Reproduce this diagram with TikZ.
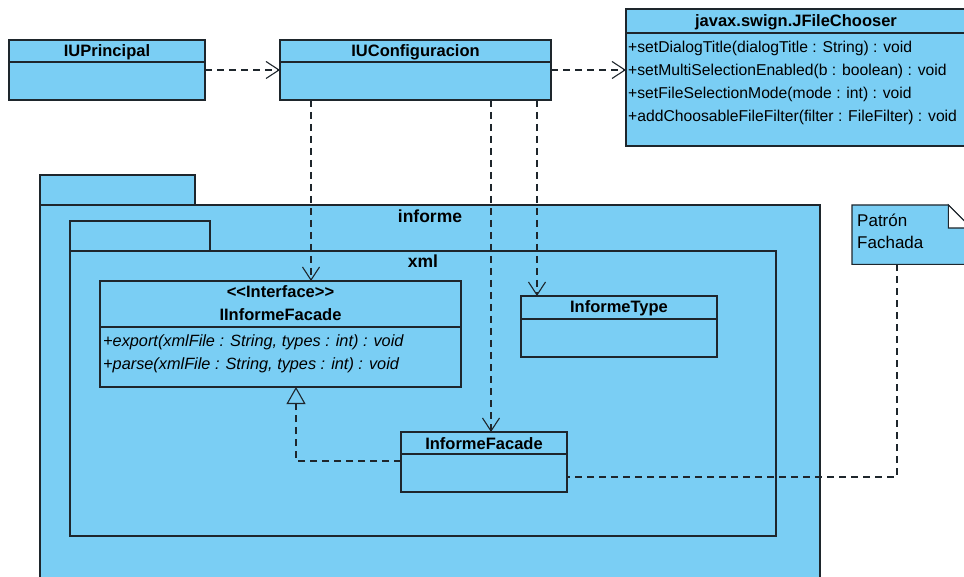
\documentclass[tikz,border=0pt]{standalone}
\usepackage{fontspec}
\setmainfont{Liberation Sans}
\usetikzlibrary{arrows.meta}
\definecolor{umlblue}{RGB}{122,206,244}
\definecolor{umlline}{RGB}{30,38,44}
\begin{document}
\begin{tikzpicture}[x=1pt,y=-1pt,
  box/.style={draw=umlline, fill=umlblue, line width=1.1pt, anchor=north west, inner sep=0pt, outer sep=0pt},
  cname/.style={font=\fontsize{16.5}{19}\selectfont\bfseries, inner sep=0pt, anchor=base},
  pname/.style={font=\fontsize{17.5}{20}\selectfont\bfseries, inner sep=0pt, anchor=base},
  meth/.style={font=\fontsize{15.7}{19}\selectfont, inner sep=0pt, anchor=base west},
  imeth/.style={font=\fontsize{16.3}{19}\selectfont\itshape, inner sep=0pt, anchor=base west},
  notetext/.style={font=\fontsize{17}{20}\selectfont, inner sep=0pt, anchor=base west},
  sepline/.style={draw=umlline, line width=1.1pt},
  dep/.style={draw=umlline, line width=1.1pt, dash pattern=on 7pt off 5pt, -{Straight Barb[length=13pt,width=17pt]}},
  real/.style={draw=umlline, line width=1.1pt, dash pattern=on 7pt off 5pt, -{Triangle[open,length=17pt,width=19pt]}},
  anchorline/.style={draw=umlline, line width=1.1pt, dash pattern=on 7pt off 5pt},
]
\useasboundingbox (0,0) rectangle (964,577);

% packages
\node[box, minimum width=780, minimum height=400] (informe) at (40,205) {};
\node[box, minimum width=155, minimum height=30, anchor=south west] (informetab) at (informe.north west) {};
\node[pname] (informelbl) at ([yshift=-18pt]informe.north) {informe};

\node[box, minimum width=706, minimum height=285] (xml) at (70,251) {};
\node[box, minimum width=140, minimum height=30, anchor=south west] (xmltab) at (xml.north west) {};
\node[pname] (xmllbl) at ([yshift=-17pt]xml.north) {xml};

% IUPrincipal
\node[box, minimum width=196, minimum height=60] (IUP) at (9,40) {};
\draw[sepline] ([yshift=-22pt]IUP.north west) -- ([yshift=-22pt]IUP.north east);
\node[cname] (IUPt) at ([yshift=-17pt]IUP.north) {IUPrincipal};

% IUConfiguracion
\node[box, minimum width=271, minimum height=60] (IUC) at (280,40) {};
\draw[sepline] ([yshift=-22pt]IUC.north west) -- ([yshift=-22pt]IUC.north east);
\node[cname] (IUCt) at ([yshift=-17pt]IUC.north) {IUConfiguracion};

% JFileChooser
\node[box, minimum width=340, minimum height=137] (JFC) at (626,9) {};
\draw[sepline] ([yshift=-24pt]JFC.north west) -- ([yshift=-24pt]JFC.north east);
\node[cname] (JFCt) at ([yshift=-18pt]JFC.north) {javax.swign.JFileChooser};
\node[meth] (m1) at ([xshift=2pt,yshift=-44pt]JFC.north west) {+setDialogTitle(dialogTitle : String) : void};
\node[meth] (m2) at ([xshift=2pt,yshift=-67pt]JFC.north west) {+setMultiSelectionEnabled(b : boolean) : void};
\node[meth] (m3) at ([xshift=2pt,yshift=-90pt]JFC.north west) {+setFileSelectionMode(mode : int) : void};
\node[meth] (m4) at ([xshift=2pt,yshift=-113pt]JFC.north west) {+addChoosableFileFilter(filter : FileFilter) : void};

% IInformeFacade
\node[box, minimum width=361, minimum height=106] (IIF) at (100,281) {};
\draw[sepline] ([yshift=-46pt]IIF.north west) -- ([yshift=-46pt]IIF.north east);
\node[cname] (IIFs) at ([yshift=-17pt]IIF.north) {{<}{<}Interface{>}{>}};
\node[cname] (IIFt) at ([yshift=-40pt]IIF.north) {IInformeFacade};
\node[imeth] (im1) at ([xshift=3pt,yshift=-65pt]IIF.north west) {+export(xmlFile : String, types : int) : void};
\node[imeth] (im2) at ([xshift=3pt,yshift=-88pt]IIF.north west) {+parse(xmlFile : String, types : int) : void};

% InformeType
\node[box, minimum width=196, minimum height=61] (IT) at (521,296) {};
\draw[sepline] ([yshift=-23pt]IT.north west) -- ([yshift=-23pt]IT.north east);
\node[cname] (ITt) at ([yshift=-17pt]IT.north) {InformeType};

% InformeFacade
\node[box, minimum width=166, minimum height=60] (IF) at (401,432) {};
\draw[sepline] ([yshift=-22pt]IF.north west) -- ([yshift=-22pt]IF.north east);
\node[cname] (IFt) at ([yshift=-17pt]IF.north) {InformeFacade};

% Note
\node[anchor=north west, inner sep=0pt, minimum width=119, minimum height=59] (note) at (852,205) {};
\filldraw[draw=umlline, fill=umlblue, line width=1.1pt]
  (note.north west) -- ([xshift=-23pt]note.north east) -- ([yshift=-23pt]note.north east)
  -- (note.south east) -- (note.south west) -- cycle;
\filldraw[draw=umlline, fill=white, line width=1.1pt]
  ([xshift=-23pt]note.north east) -- ([xshift=-23pt,yshift=-23pt]note.north east) -- ([yshift=-23pt]note.north east) -- cycle;
\node[notetext] (n1) at ([xshift=5pt,yshift=-22pt]note.north west) {Patrón};
\node[notetext] (n2) at ([xshift=5pt,yshift=-44pt]note.north west) {Fachada};

% connectors
\draw[dep] (IUP.east) -- (IUC.west);
\draw[dep] (IUC.east) -- (IUC.east -| JFC.west);
\draw[dep] ([xshift=31pt]IUC.south west) -- ([xshift=31pt]IUC.south west |- IIF.north);
\draw[dep] ([xshift=211pt]IUC.south west) -- ([xshift=211pt]IUC.south west |- IF.north);
\draw[dep] ([xshift=257pt]IUC.south west) -- ([xshift=257pt]IUC.south west |- IT.north);
\draw[real] ([yshift=1pt]IF.west) -| ([xshift=196pt]IIF.south west);
\draw[anchorline] ([xshift=45pt]note.south west) |- ([yshift=-15pt]IF.east);

\end{tikzpicture}
\end{document}
